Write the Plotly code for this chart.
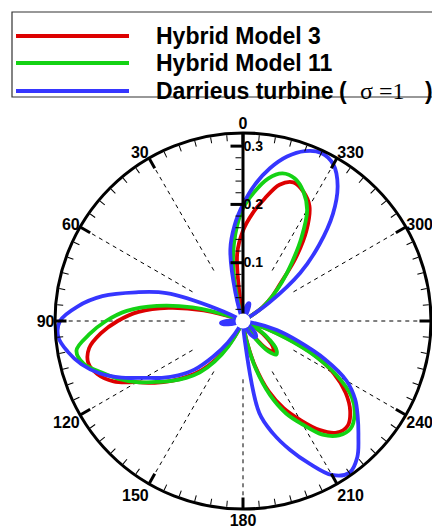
import plotly.graph_objects as go

# ---------------- data (azimuth in degrees, signed radial value) ----------------
angles = list(range(0, 360, 5))

hybrid3 = [
    0.155, 0.115, 0.005, 0.000, 0.000, 0.000, -0.008, -0.030, -0.062, -0.074,
    -0.066, -0.048, -0.030, -0.010, 0.010, 0.070, 0.130, 0.180, 0.215, 0.245,
    0.268, 0.275, 0.266, 0.245, 0.210, 0.185, 0.160, 0.135, 0.110, 0.080,
    0.045, 0.015, 0.000, -0.005, -0.005, 0.000, 0.000, 0.000, 0.030, 0.080,
    0.128, 0.165, 0.196, 0.228, 0.250, 0.254, 0.240, 0.215, 0.180, 0.130,
    0.065, 0.020, 0.000, -0.005, -0.008, -0.008, -0.005, 0.000, 0.000, 0.000,
    0.000, 0.040, 0.065, 0.090, 0.140, 0.190, 0.228, 0.245, 0.253, 0.242,
    0.213, 0.185,
]

hybrid11 = [
    0.193, 0.150, 0.098, 0.030, 0.000, 0.000, -0.010, -0.036, -0.068, -0.081,
    -0.074, -0.055, -0.035, -0.012, 0.020, 0.090, 0.150, 0.200, 0.235, 0.265,
    0.290, 0.283, 0.258, 0.235, 0.210, 0.182, 0.160, 0.138, 0.115, 0.085,
    0.050, 0.015, 0.000, -0.005, -0.005, 0.000, 0.000, 0.005, 0.035, 0.085,
    0.135, 0.175, 0.205, 0.238, 0.256, 0.261, 0.250, 0.228, 0.185, 0.125,
    0.060, 0.020, 0.000, -0.005, -0.008, -0.008, -0.005, 0.000, 0.000, 0.000,
    0.005, 0.040, 0.065, 0.095, 0.130, 0.175, 0.220, 0.245, 0.260, 0.262,
    0.248, 0.222,
]

darrieus = [
    0.200, 0.165, 0.125, 0.050, 0.000, -0.015, -0.028, -0.034, -0.035, -0.030,
    -0.020, -0.010, 0.000, 0.050, 0.140, 0.190, 0.245, 0.285, 0.314, 0.318,
    0.305, 0.287, 0.262, 0.230, 0.195, 0.170, 0.145, 0.118, 0.080, 0.045,
    0.010, -0.020, -0.032, -0.030, -0.020, -0.010, 0.000, 0.030, 0.160, 0.200,
    0.235, 0.270, 0.305, 0.318, 0.305, 0.280, 0.257, 0.235, 0.205, 0.155,
    0.100, 0.060, 0.015, -0.010, -0.030, -0.038, -0.033, -0.020, -0.010, 0.000,
    0.005, 0.055, 0.128, 0.185, 0.240, 0.283, 0.310, 0.318, 0.310, 0.292,
    0.266, 0.235,
]

series_names = ["Hybrid Model 3", "Hybrid Model 11", "Darrieus turbine"]
series_colors = ["#dd0000", "#14d214", "#3636ff"]

angular_major = list(range(0, 360, 30))
angular_minor = list(range(0, 360, 5))
radial_major = [0.1, 0.2, 0.3]
radial_major_text = ["0.1", "0.2", "0.3"]
radial_minor = [round(0.02 * k, 2) for k in range(1, 16)]
r_max = 0.3225
grid_start = 0.1

# ---------------- figure ----------------
OFF = 8                      # page body margin of the html page
W, H = 440 - OFF, 527 - OFF


def px_x(x):
    return (x - OFF) / W


def px_y(y):
    return 1 - (y - OFF) / H


def to_polar(vals):
    th, rr = [], []
    for a, v in zip(angles + [angles[0] + 360], vals + [vals[0]]):
        th.append(a + 180 if v < 0 else a)
        rr.append(abs(v))
    return th, rr


fig = go.Figure()

# dashed spokes (start at r = 0.1), skipping the 0 deg direction (radial axis)
g_th, g_r = [], []
for a in angular_major:
    if a == 0:
        continue
    g_th += [a, a, None]
    g_r += [grid_start, r_max, None]
fig.add_trace(go.Scatterpolar(
    r=g_r, theta=g_th, mode="lines", subplot="polar",
    line=dict(color="black", width=1, dash="4px,4px"),
    showlegend=False, hoverinfo="skip", connectgaps=False))

for vals, name, col in zip([hybrid3, hybrid11, darrieus], series_names, series_colors):
    th, rr = to_polar(vals)
    fig.add_trace(go.Scatterpolar(
        r=rr, theta=th, mode="lines", name=name, subplot="polar",
        line=dict(color=col, width=3.8, shape="spline", smoothing=1.0),
        showlegend=False))

# white centre disc + carrier for the overlay subplot
fig.add_trace(go.Scatterpolar(
    r=[0], theta=[0], mode="markers", subplot="polar2",
    marker=dict(color="white", size=15, line=dict(width=0)),
    showlegend=False, hoverinfo="skip"))

domain = dict(x=[px_x(55), px_x(431)], y=[px_y(509), px_y(133)])
lab_font = dict(family="Liberation Sans", size=16, color="black", weight="bold")

fig.update_layout(
    width=W, height=H,
    margin=dict(l=0, r=0, t=0, b=0),
    paper_bgcolor="white",
    template="none",
    showlegend=False,
    polar=dict(
        domain=domain,
        bgcolor="white",
        radialaxis=dict(
            range=[0, r_max], angle=90, side="clockwise",
            tickvals=radial_minor, ticks="inside", ticklen=6, tickwidth=1,
            tickcolor="black", showticklabels=False,
            showline=True, linewidth=3, linecolor="black", showgrid=False),
        angularaxis=dict(
            rotation=90, direction="counterclockwise",
            tickvals=angular_minor, ticks="inside", ticklen=6, tickwidth=1,
            tickcolor="black", showticklabels=False,
            showline=True, linewidth=3, linecolor="black", showgrid=False),
    ),
    polar2=dict(
        domain=domain,
        bgcolor="rgba(0,0,0,0)",
        radialaxis=dict(
            range=[0, r_max], angle=90, side="clockwise",
            tickvals=radial_major, ticktext=radial_major_text, tickangle=90,
            ticks="inside", ticklen=12, tickwidth=3, tickcolor="black",
            tickfont=dict(family="Liberation Sans", size=14, color="black", weight="bold"),
            showline=False, showgrid=False),
        angularaxis=dict(
            rotation=90, direction="counterclockwise",
            tickvals=angular_major, ticktext=[str(a) for a in angular_major],
            ticks="inside", ticklen=11, tickwidth=3, tickcolor="black",
            tickfont=lab_font,
            showline=False, showgrid=False),
    ),
)

# ---------------- legend box (manual) ----------------
shapes = [dict(type="rect", xref="paper", yref="paper",
               x0=px_x(12), x1=px_x(450), y0=px_y(97), y1=px_y(12),
               line=dict(color="#333333", width=1.2), fillcolor="white", layer="below")]
leg_y = [36, 63, 91]
bold = dict(family="Liberation Sans", size=23, color="black", weight="bold")
serif = dict(family="Liberation Serif", size=24, color="black")
annotations = []
for yy, col, t in zip(leg_y, series_colors, series_names):
    shapes.append(dict(type="line", xref="paper", yref="paper",
                       x0=px_x(16), x1=px_x(129), y0=px_y(yy), y1=px_y(yy),
                       line=dict(color=col, width=3.8)))
    annotations.append(dict(xref="paper", yref="paper", x=px_x(154), y=px_y(yy),
                            xanchor="left", yanchor="middle", showarrow=False,
                            text=t, font=bold))
# the "( σ =1 )" part of the third entry
for xx, t, f in [(337, "(", bold), (358, "σ =1", serif), (423, ")", bold)]:
    annotations.append(dict(xref="paper", yref="paper", x=px_x(xx), y=px_y(leg_y[2]),
                            xanchor="left", yanchor="middle", showarrow=False,
                            text=t, font=f))
fig.update_layout(shapes=shapes, annotations=annotations)

fig.write_html("out.html")
